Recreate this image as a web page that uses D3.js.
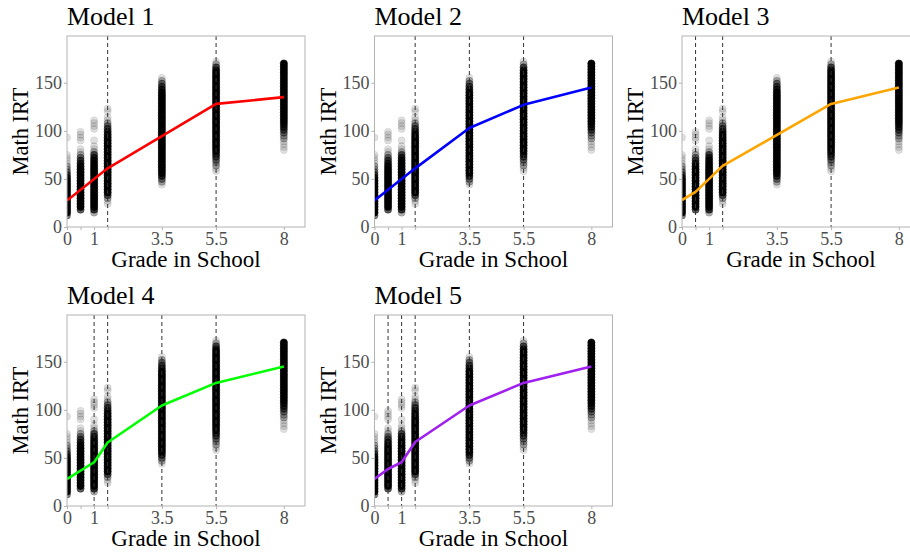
<!DOCTYPE html>
<html>
<head>
<meta charset="utf-8">
<script src="https://cdn.jsdelivr.net/npm/d3@7"></script>
<style>
  body { margin: 0; background: #fff; }
</style>
</head>
<body>
<svg id="chart" width="910" height="556"></svg>
<script>
// measurement waves (grade in school) and the score distribution at each wave,
// given as counts of children per 3-point IRT bin, starting at binStart
const waves = [0, 0.5, 1, 1.5, 3.5, 5.5, 8];
const binStep = 3;
const binStart = [12, 18, 15, 24, 44, 58, 80];
const binCounts = [
  [3,10,15,18,20,20,20,18,16,14,12,10,8,6,4,3,2,2,1,1,1,1,0,0,0,0,0,1],
  [4,12,16,18,20,20,20,18,16,15,13,11,10,8,7,6,5,4,3,2,1,1,0,0,1,1,1,1],
  [2,5,10,14,16,18,20,20,20,18,17,16,14,12,11,10,8,7,6,5,4,2,1,1,0,1,0,0,0,1,1,1,1],
  [1,1,2,4,8,10,12,14,16,17,18,19,20,20,20,20,19,18,16,14,12,10,9,7,6,5,4,3,2,1,1,0,1,1],
  [1,2,3,5,7,9,11,12,13,14,15,16,17,18,19,20,20,20,20,20,20,20,19,18,17,16,15,14,13,12,10,9,7,5,4,3,2,1],
  [1,1,2,2,3,4,5,6,7,8,9,10,11,12,13,14,15,16,17,18,18,19,20,20,20,20,20,19,18,17,16,14,12,10,8,6,4,2,1],
  [1,1,1,1,2,2,3,4,5,6,7,8,9,10,11,12,13,14,15,16,17,18,19,20,21,22,23,24,25,25,20]
];

// fitted piecewise growth curves
const modelNames = ["Model 1", "Model 2", "Model 3", "Model 4", "Model 5"];
const modelColors = ["#ff0000", "#0000ff", "#ffa500", "#00ff00", "#a020f0"];
const modelKnots = [
  [1.5, 5.5],
  [1.5, 3.5, 5.5],
  [0.5, 1.5, 5.5],
  [1, 1.5, 3.5, 5.5],
  [0.5, 1, 1.5, 3.5, 5.5]
];
const fitGrades = [
  [0, 1.5, 5.5, 8],
  [0, 1.5, 3.5, 5.5, 8],
  [0, 0.5, 1.5, 5.5, 8],
  [0, 1, 1.5, 3.5, 5.5, 8],
  [0, 0.5, 1, 1.5, 3.5, 5.5, 8]
];
const fitScores = [
  [27.5, 61, 128, 135],
  [27.5, 61, 103, 127, 145],
  [28, 36.5, 63.5, 128, 145],
  [28, 45.5, 66, 104.5, 128, 145],
  [28, 38.5, 45.5, 66.5, 104.5, 128, 145]
];

const xTicks = [0, 0.5, 1, 1.5, 3.5, 5.5, 8];
const xTickLabels = ["0", "", "1", "", "3.5", "5.5", "8"];
const yTicks = [0, 50, 100, 150];

const serif = "'Times New Roman', Times, Tinos, 'Liberation Serif', 'Noto Serif', 'DejaVu Serif', serif";
const svg = d3.select("#chart");
const panelW = 238, panelH = 191;
const pointAlpha = 0.12;

const x = d3.scaleLinear().domain([0, 8.78]).range([0, panelW]);
const y = d3.scaleLinear().domain([0, 198.6]).range([panelH, 0]);

// flatten bins into point rows; opacity stands in for overplotting of n points
const points = [];
waves.forEach((w, i) => {
  binCounts[i].forEach((n, j) => {
    if (n > 0) points.push({grade: w, score: binStart[i] + j * binStep, n: n});
  });
});
const overplot = n => Math.min(1, 1 - Math.pow(1 - pointAlpha, Math.pow(n, 1.5)));

modelNames.forEach((name, i) => {
  const col = i % 3, row = Math.floor(i / 3);
  const left = 67 + col * 307.5, top = 36 + row * 279;
  const g = svg.append("g").attr("transform", "translate(" + left + "," + top + ")");

  g.append("clipPath").attr("id", "clip" + i)
    .append("rect").attr("width", panelW).attr("height", panelH);

  const inner = g.append("g").attr("clip-path", "url(#clip" + i + ")");

  inner.selectAll(".pt").data(points).enter().append("circle")
    .attr("class", "pt")
    .attr("cx", d => x(d.grade))
    .attr("cy", d => y(d.score))
    .attr("r", 3.6)
    .attr("fill", "#000")
    .attr("fill-opacity", d => overplot(d.n))
    .attr("stroke", "#000")
    .attr("stroke-width", 0.6)
    .attr("stroke-opacity", d => overplot(d.n));

  inner.selectAll(".knot").data(modelKnots[i]).enter().append("line")
    .attr("class", "knot")
    .attr("x1", d => x(d)).attr("x2", d => x(d))
    .attr("y1", 0).attr("y2", panelH)
    .attr("stroke", "#333")
    .attr("stroke-width", 1)
    .attr("stroke-dasharray", "4,3");

  const fit = fitGrades[i].map((gr, k) => [gr, fitScores[i][k]]);
  inner.append("path")
    .attr("d", d3.line().x(d => x(d[0])).y(d => y(d[1]))(fit))
    .attr("fill", "none")
    .attr("stroke", modelColors[i])
    .attr("stroke-width", 2.6)
    .attr("stroke-linejoin", "round");

  g.append("rect")
    .attr("width", panelW).attr("height", panelH)
    .attr("fill", "none").attr("stroke", "#b3b3b3").attr("stroke-width", 1);

  const xAxis = g.append("g").attr("transform", "translate(0," + panelH + ")")
    .call(d3.axisBottom(x).tickValues(xTicks).tickFormat((d, k) => xTickLabels[k])
      .tickSize(3).tickPadding(2));
  const yAxis = g.append("g")
    .call(d3.axisLeft(y).tickValues(yTicks).tickSize(3).tickPadding(2));

  [xAxis, yAxis].forEach(a => {
    a.attr("font-family", serif);
    a.select(".domain").remove();
    a.selectAll(".tick line").attr("stroke", "#b3b3b3");
    a.selectAll(".tick text")
      .attr("fill", "#4d4d4d")
      .style("font-family", serif)
      .attr("font-size", 18);
  });

  g.append("text")
    .attr("x", 0).attr("y", -11)
    .style("font-family", serif)
    .attr("font-size", 26)
    .attr("fill", "#000")
    .text(name);

  g.append("text")
    .attr("x", panelW / 2).attr("y", panelH + 40)
    .attr("text-anchor", "middle")
    .style("font-family", serif)
    .attr("font-size", 23)
    .text("Grade in School");

  g.append("text")
    .attr("transform", "translate(-39," + (panelH / 2) + ") rotate(-90)")
    .attr("text-anchor", "middle")
    .style("font-family", serif)
    .attr("font-size", 22.5)
    .text("Math IRT");
});
</script>
</body>
</html>
